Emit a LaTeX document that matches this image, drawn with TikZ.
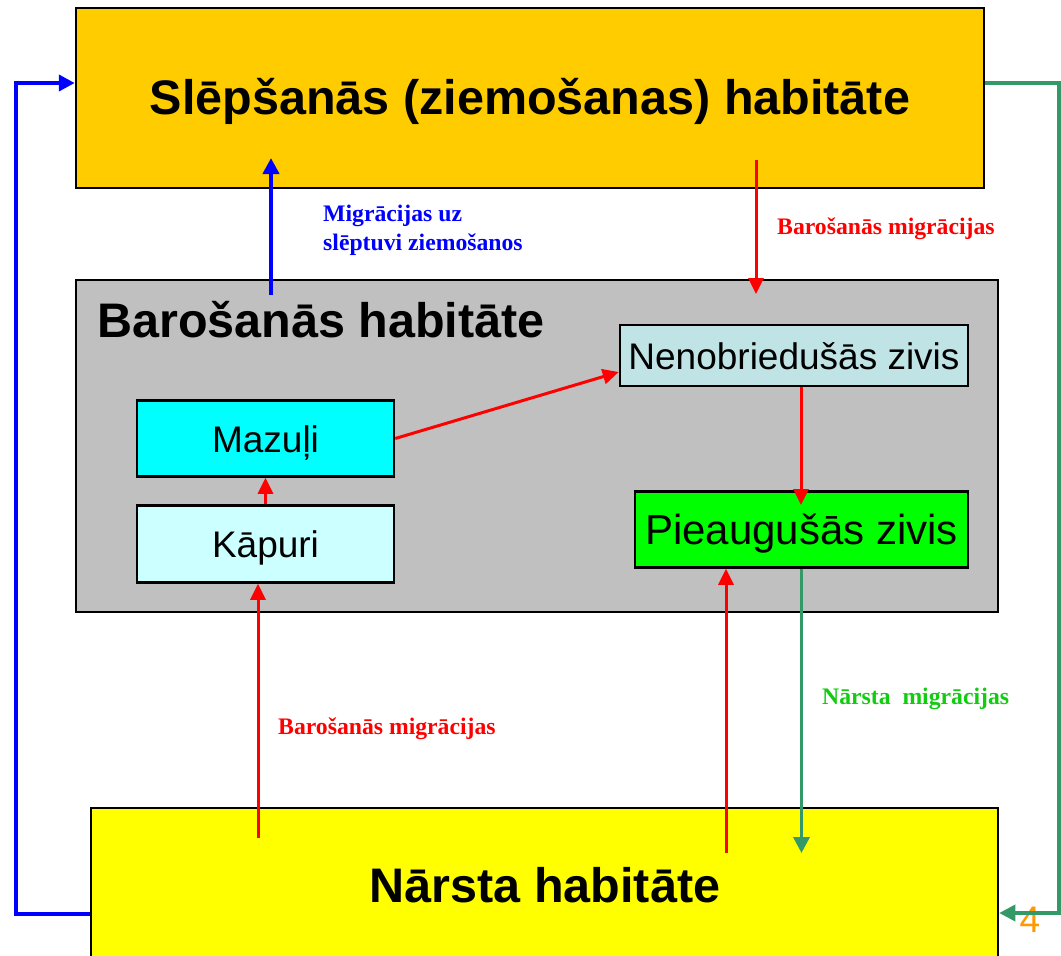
\documentclass[tikz,border=0pt]{standalone}
\usepackage{fontspec}
\setmainfont{Liberation Serif}
\setsansfont{Liberation Sans}
\usetikzlibrary{arrows.meta}
\definecolor{topfill}{HTML}{FFCC00}
\definecolor{grayfill}{HTML}{C0C0C0}
\definecolor{botfill}{HTML}{FFFF00}
\definecolor{nenofill}{HTML}{C0E4E6}
\definecolor{pieafill}{HTML}{00FF00}
\definecolor{mazfill}{HTML}{00FFFF}
\definecolor{kapfill}{HTML}{CCFFFF}
\definecolor{arrred}{HTML}{FF0000}
\definecolor{arrblue}{HTML}{0000FF}
\definecolor{arrgreen}{HTML}{339966}
\definecolor{lblgreen}{HTML}{11CC11}
\definecolor{numorange}{HTML}{FF9900}
\tikzset{
  box/.style={draw=black, line width=2.5pt, rectangle, inner sep=0pt},
  title/.style={font=\sffamily\bfseries\fontsize{48.5}{54}\selectfont, inner sep=0pt},
  inner/.style={font=\sffamily\fontsize{37}{40}\selectfont, text height=27pt, text depth=0pt},
  bigger/.style={font=\sffamily\fontsize{42}{46}\selectfont, text height=30.5pt, text depth=0pt},
  lbl/.style={font=\rmfamily\bfseries\fontsize{23.7}{29}\selectfont, align=left, inner sep=0pt},
  redarr/.style={draw=arrred, line width=3pt, -{Triangle[length=16pt,width=15pt]}},
  bluearr/.style={draw=arrblue, line width=4pt, -{Triangle[length=16pt,width=16pt]}},
  greenarr/.style={draw=arrgreen, line width=3.5pt, -{Triangle[length=16pt,width=16pt]}},
}
\begin{document}
\begin{tikzpicture}[x=1pt, y=-1pt]
\clip (0,0) rectangle (1061,956);
\fill[white] (0,0) rectangle (1061,956);
% boxes
\node[box, fill=topfill, minimum width=908, minimum height=180] (top) at (530,98) {};
\node[title] (toptxt) at (530,101) {Slēpšanās (ziemošanas) habitāte};
\node[box, fill=grayfill, minimum width=922, minimum height=332] (mid) at (537,446) {};
\node[title, anchor=west] (midtxt) at (97,320) {Barošanās habitāte};
\node[box, fill=botfill, minimum width=907, minimum height=190] (bot) at (544.5,903) {};
\node[title] (bottxt) at (545,885) {Nārsta habitāte};
\node[box, fill=nenofill, minimum width=348, minimum height=61, inner] (neno) at (794,355.5) {Nenobriedušās zivis};
\node[box, fill=pieafill, minimum width=333, minimum height=76, bigger] (piea) at (801.5,529.5) {Pieaugušās zivis};
\node[box, fill=mazfill, minimum width=257, minimum height=76, inner] (maz) at (265.5,438.5) {Mazuļi};
\node[box, fill=kapfill, minimum width=257, minimum height=77, inner] (kap) at (265.5,544) {Kāpuri};
% labels
\node[lbl, text=arrblue, anchor=north west] (lblup) at (323,205) {Migrācijas uz\\slēptuvi ziemošanos};
\node[lbl, text=arrred, anchor=west] (lbldown) at (777,229) {Barošanās migrācijas};
\node[lbl, text=arrred, anchor=west] (lblbot) at (278,729) {Barošanās migrācijas};
\node[lbl, text=lblgreen, anchor=west] (lblgreen) at (822,699) {Nārsta\ \ migrācijas};
\node[font=\sffamily\fontsize{37}{40}\selectfont, text=numorange, inner sep=0pt] (num) at (1030,920) {4};
% coordinates
\coordinate (bl) at (16,914);
\coordinate (tl) at (16,83);
\coordinate (tr) at (1059,83);
\coordinate (br) at (1059,913);
\coordinate (bu1) at (271,295);
\coordinate (bu2) at (271,158);
\coordinate (rd1) at (756,160);
\coordinate (rd2) at (756,294);
\coordinate (rk) at (258,838);
\coordinate (rp) at (726,853);
\coordinate (gp) at (801.5,853);
\coordinate (rnp) at (801,505);
% connectors
\draw[bluearr] (bl -| bot.west) -- (bl) -- (tl) -- (tl -| top.west);
\draw[greenarr] (tr -| top.east) -- (tr) -- (br) -- (br -| bot.east);
\draw[bluearr] (bu1) -- (bu2);
\draw[redarr] (rd1) -- (rd2);
\draw[redarr] (maz.east) -- (neno.west |- 0,372);
\draw[redarr] (kap.north) -- (maz.south);
\draw[redarr] (neno.south -| rnp) -- (rnp);
\draw[redarr] (rk) -- (rk |- kap.south);
\draw[redarr] (rp) -- (rp |- piea.south);
\draw[greenarr] (piea.south -| gp) -- (gp);
\end{tikzpicture}
\end{document}
